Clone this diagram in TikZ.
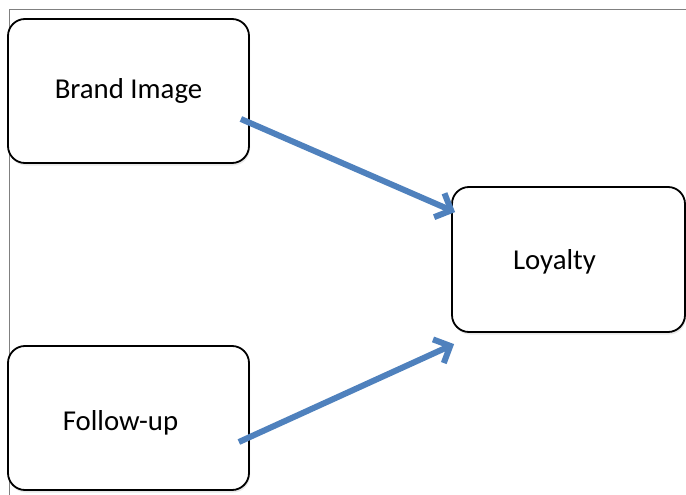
\documentclass[tikz,border=0pt]{standalone}
\usepackage{fontspec}
\setmainfont{Carlito}
\usepackage{tikz}
\usetikzlibrary{arrows.meta, positioning, calc, shadows}
\usepackage{xcolor}
\definecolor{arrowblue}{RGB}{79,129,189}
\definecolor{framegray}{RGB}{128,128,128}

\begin{document}
\begin{tikzpicture}[x=1pt, y=-1pt,
  box/.style={draw=black, line width=1.8pt, fill=white, rounded corners=17pt,
    minimum width=241pt, minimum height=144pt,
    drop shadow={shadow xshift=1pt, shadow yshift=-2.5pt, fill=black!18},
    font=\fontsize{28.8}{34}\selectfont},
  flow/.style={arrowblue, line width=6pt, -{Straight Barb[length=13pt, width=26pt]}}]
  \useasboundingbox (0,0) rectangle (686,495);

  % Page frame
  \draw[framegray, line width=1.3pt] (686,9.5) -- (9.5,9.5) -- (9.5,495);

  % Boxes
  \node[box] (brand) at (128.5,91) {Brand Image};
  \node[box, minimum width=233pt, minimum height=145pt,
    label={[font=\fontsize{28.8}{34}\selectfont, xshift=-14, yshift=-2]center:Loyalty}] (loyalty) at (568.5,259.5) {};
  \node[box,
    label={[font=\fontsize{28.8}{34}\selectfont, xshift=-8, yshift=-5]center:Follow-up}] (followup) at (128.5,418) {};

  % Arrows into loyalty
  \draw[flow] ([shift={(-9,28)}]brand.east) -- ([shift={(4,26)}]loyalty.north west);
  \draw[flow] ([shift={(-11,24)}]followup.east) -- ([shift={(3,158)}]loyalty.north west);
\end{tikzpicture}
\end{document}
